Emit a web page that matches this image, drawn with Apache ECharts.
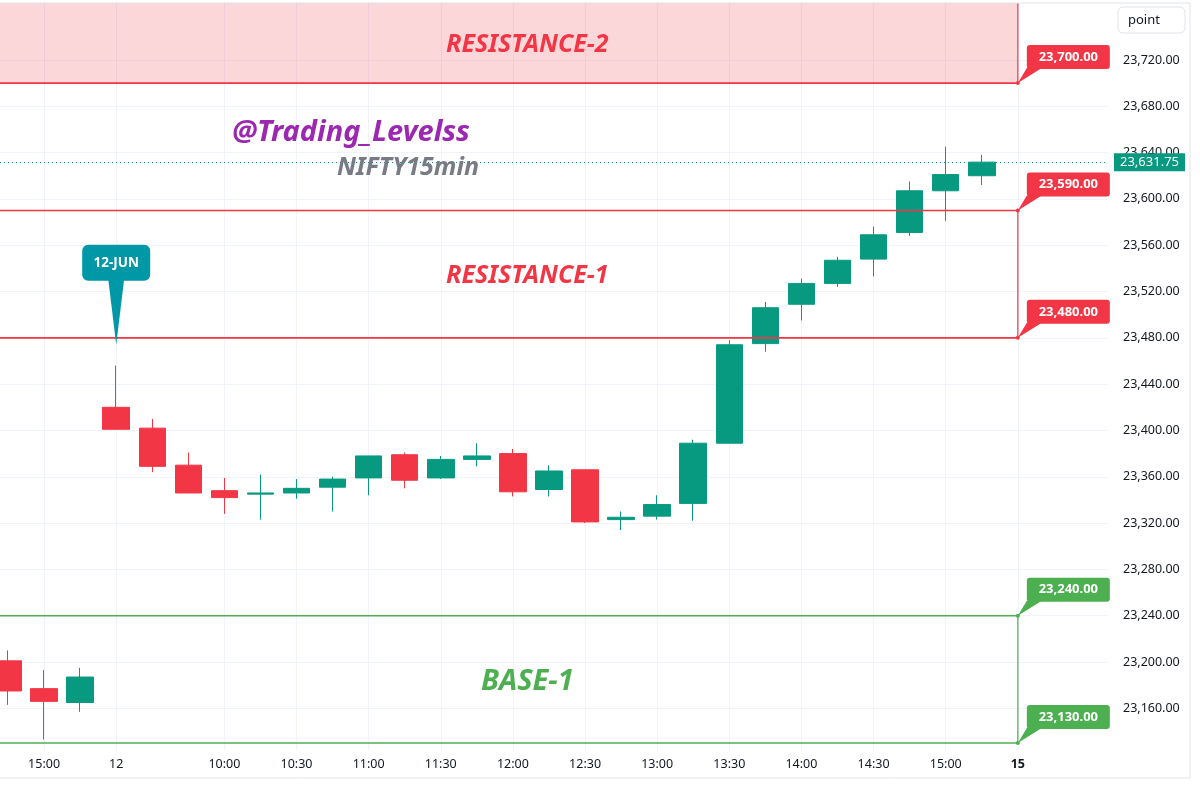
<!DOCTYPE html>
<html>
<head>
<meta charset="utf-8">
<script src="https://cdn.jsdelivr.net/npm/echarts@6/dist/echarts.min.js"></script>
<style>
html,body{margin:0;padding:0;background:#fff;}
#chart{width:1200px;height:791px;}
</style>
</head>
<body>
<div id="chart"></div>
<script>
// ---- data ----
const candleX = [0,1,2,3,4,5,6,7,8,9,10,11,12,13,14,15,16,17,18,19,20,21,22,23,24,25,26,27];
const opens  = [23201,23177,23165,23420,23402,23370,23348,23345,23346,23351,23359,23379,23359,23375,23380,23349,23366,23323,23326,23337,23389,23475,23509,23527,23548,23571,23607,23620];
const closes = [23175,23166,23187,23401,23369,23346,23342,23346,23350,23358,23378,23357,23375,23378,23347,23365,23321,23325,23336,23389,23474,23506,23527,23547,23569,23607,23621,23631.75];
const lows   = [23163,23133,23157,23401,23364,23346,23328,23323,23341,23330,23344,23350,23358,23369,23343,23343,23320,23314,23323,23322,23389,23468,23495,23524,23533,23568,23581,23612];
const highs  = [23210,23193,23195,23456,23410,23381,23359,23362,23358,23360,23378,23381,23378,23389,23384,23370,23366,23330,23344,23392,23478,23511,23531,23550,23576,23615,23645,23638];

const timeTickIdx    = [1,3,6,8,10,12,14,16,18,20,22,24,26,28];
const timeTickLabels = ['15:00','12','10:00','10:30','11:00','11:30','12:00','12:30','13:00','13:30','14:00','14:30','15:00','15'];
const priceTicks = [23160,23200,23240,23280,23320,23360,23400,23440,23480,23520,23560,23600,23640,23680,23720];

const zoneNames = ['RESISTANCE-2','RESISTANCE-1','BASE-1'];
const zoneLows  = [23700,23480,23130];
const zoneHighs = [23800,23590,23240];
const zoneKinds = ['res','res','base'];
const zoneFilled = [true,false,false];
const zoneStartX = -3;
const zoneEndX = 28;
const zoneLabelX = 14.4;

const calloutPrices = [23700,23590,23480,23240,23130];
const calloutKinds  = ['res','res','res','base','base'];

const dateNoteX = 3;
const dateNotePrice = 23474;
const dateNoteText = '12-JUN';

const lastPrice = 23631.75;
const watermark1 = '@Trading_Levelss';
const watermark2 = 'NIFTY15min';

// ---- styles ----
const UP = '#089981', DOWN = '#f23645';
const KIND_COLOR = {res:'#f23645', base:'#4caf50'};
const FONT = '"Noto Sans", "Open Sans", sans-serif';
const GRID_COLOR = '#f0f3fa';
const fmt = v => v.toLocaleString('en-US',{minimumFractionDigits:2, maximumFractionDigits:2});

const candleData = candleX.map((x,i)=>[x, opens[i], closes[i], lows[i], highs[i]]);
const zoneData = zoneNames.map((n,i)=>[zoneStartX, zoneEndX, zoneLows[i], zoneHighs[i]]);
const calloutData = calloutPrices.map(p=>[zoneEndX, p]);

const chart = echarts.init(document.getElementById('chart'), null, {renderer:'canvas'});

function renderZone(params, api){
  const i = params.dataIndex;
  const cs = params.coordSys;
  const color = KIND_COLOR[zoneKinds[i]];
  const tl = api.coord([api.value(0), api.value(3)]);
  const br = api.coord([api.value(1), api.value(2)]);
  const x1 = Math.max(tl[0], cs.x), x2 = Math.min(br[0], cs.x+cs.width);
  const y1 = Math.max(tl[1], cs.y), y2 = Math.min(br[1], cs.y+cs.height);
  const ch = [];
  if (zoneFilled[i]) ch.push({type:'rect', shape:{x:x1,y:y1,width:x2-x1,height:y2-y1}, style:{fill:'rgba(242,54,69,0.2)'}});
  if (tl[1] >= cs.y) ch.push({type:'line', shape:{x1:x1,y1:tl[1],x2:br[0],y2:tl[1]}, style:{stroke:color,lineWidth:1.6}});
  ch.push({type:'line', shape:{x1:x1,y1:br[1],x2:br[0],y2:br[1]}, style:{stroke:color,lineWidth:1.6}});
  ch.push({type:'line', shape:{x1:br[0],y1:y1,x2:br[0],y2:br[1]}, style:{stroke:color,lineWidth:1.2}});
  if (tl[1] >= cs.y) ch.push({type:'circle', shape:{cx:br[0],cy:tl[1],r:2}, style:{fill:color}});
  ch.push({type:'circle', shape:{cx:br[0],cy:br[1],r:2}, style:{fill:color}});
  const lx = api.coord([zoneLabelX, api.value(2)])[0];
  ch.push({type:'text', style:{text:zoneNames[i], x:lx, y:(y1+y2)/2+2, align:'center', verticalAlign:'middle',
    fill:color, font:'italic bold ' + (zoneKinds[i]==='base'?29:25) + 'px ' + FONT}});
  return {type:'group', children:ch};
}

function renderCallout(params, api){
  const i = params.dataIndex;
  const color = KIND_COLOR[calloutKinds[i]];
  const p = api.coord([api.value(0), api.value(1)]);
  const ax = p[0], ay = p[1];
  return {type:'group', children:[
    {type:'polygon', shape:{points:[[ax,ay],[ax+9,ay-15],[ax+24,ay-15]]}, style:{fill:color}},
    {type:'rect', shape:{x:ax+9,y:ay-38,width:83,height:24,r:3}, style:{fill:color}},
    {type:'text', style:{text:fmt(api.value(1)), x:ax+50.5, y:ay-26, align:'center', verticalAlign:'middle',
      fill:'#fff', font:'bold 13px ' + FONT}}
  ]};
}

function renderDateNote(params, api){
  const p = api.coord([api.value(0), api.value(1)]);
  const tx = p[0], ty = p[1];
  const c = '#0097a7';
  return {type:'group', children:[
    {type:'polygon', shape:{points:[[tx-8,ty-66],[tx+8,ty-66],[tx,ty]]}, style:{fill:c}},
    {type:'rect', shape:{x:tx-34,y:ty-100,width:68,height:36,r:6}, style:{fill:c}},
    {type:'text', style:{text:dateNoteText, x:tx, y:ty-82, align:'center', verticalAlign:'middle', fill:'#fff', font:'bold 13.5px ' + FONT}}
  ]};
}

const option = {
  animation:false,
  backgroundColor:'#ffffff',
  grid:{left:0, right:92, top:3, bottom:41, containLabel:false},
  xAxis:{
    type:'value', min:-0.222, max:30.5,
    axisLine:{show:false},
    axisTick:{show:false, customValues:timeTickIdx},
    splitLine:{show:true, lineStyle:{color:GRID_COLOR, width:1}},
    axisLabel:{customValues:timeTickIdx, margin:8, color:'#131722', fontSize:12.5, fontFamily:FONT,
      formatter:v=>{ const k = timeTickIdx.indexOf(Math.round(v)); if(k<0) return ''; return k===timeTickIdx.length-1 ? '{b|'+timeTickLabels[k]+'}' : timeTickLabels[k]; },
      rich:{b:{fontWeight:'bold', color:'#131722', fontSize:12.5, fontFamily:FONT}}}
  },
  yAxis:{
    type:'value', position:'right', min:23124.0, max:23769.2, scale:true,
    axisLine:{show:false},
    axisTick:{show:false, customValues:priceTicks},
    splitLine:{show:true, lineStyle:{color:GRID_COLOR, width:1}},
    axisLabel:{customValues:priceTicks, margin:15, color:'#131722', fontSize:12.5, fontFamily:FONT, formatter:v=>fmt(v)}
  },
  graphic:[
    {type:'line', shape:{x1:0,y1:3,x2:1190,y2:3}, style:{stroke:'#e0e3eb',lineWidth:1}, z:100},
    {type:'line', shape:{x1:1190,y1:3,x2:1190,y2:778}, style:{stroke:'#e0e3eb',lineWidth:1}, z:100},
    {type:'line', shape:{x1:0,y1:778,x2:1190,y2:778}, style:{stroke:'#e0e3eb',lineWidth:1}, z:100},
    {type:'rect', shape:{x:1118,y:7,width:67,height:26,r:5}, style:{fill:'#fff',stroke:'#e0e3eb',lineWidth:1}, z:100},
    {type:'text', style:{text:'point', x:1128, y:20, verticalAlign:'middle', fill:'#131722', font:'13px ' + FONT}, z:101},
    {type:'text', style:{text:watermark1, x:351, y:133, align:'center', verticalAlign:'middle', fill:'#9c27b0', font:'italic bold 29px ' + FONT}, z:50},
    {type:'text', style:{text:watermark2, x:408, y:168, align:'center', verticalAlign:'middle', fill:'#787b86', font:'italic bold 25px ' + FONT}, z:50}
  ],
  series:[
    {
      type:'candlestick', data:candleData, barWidth:27, z:3,
      itemStyle:{color:UP, color0:DOWN, borderColor:UP, borderColor0:DOWN, borderWidth:1},
      markLine:{
        symbol:'none', silent:true, animation:false,
        data:[{yAxis:lastPrice}],
        lineStyle:{color:UP, type:[1,3], width:1},
        label:{show:true, position:'end', formatter:fmt(lastPrice), backgroundColor:UP, color:'#fff',
          padding:[3,6,2,6], fontSize:13, fontFamily:FONT, distance:6}
      }
    },
    {type:'custom', renderItem:renderZone, data:zoneData, encode:{x:[0,1], y:[2,3]}, z:4, silent:true},
    {type:'custom', renderItem:renderCallout, data:calloutData, encode:{x:0, y:1}, z:5, silent:true},
    {type:'custom', renderItem:renderDateNote, data:[[dateNoteX, dateNotePrice]], encode:{x:0, y:1}, z:5, silent:true}
  ]
};
chart.setOption(option);
</script>
</body>
</html>
